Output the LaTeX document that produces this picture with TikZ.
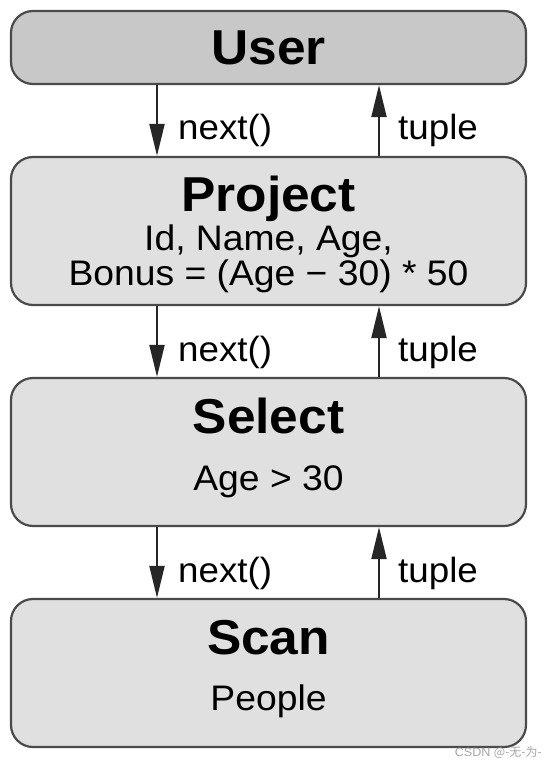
\documentclass[tikz,border=0pt]{standalone}
\usepackage{fontspec}
\setmainfont{Liberation Sans}[FakeStretch=1.05]
\newfontfamily\cjk{Noto Sans CJK SC}
\usetikzlibrary{arrows.meta}
\definecolor{usergray}{HTML}{C8C8C8}
\definecolor{opgray}{HTML}{E0E0E0}
\definecolor{edgegray}{HTML}{4A4A4A}
\tikzset{
  opbox/.style={draw=edgegray, line width=2.2pt, rounded corners=22pt, fill=opgray,
    minimum width=515pt, inner sep=0pt},
  titletext/.style={anchor=base, inner sep=0pt, font=\fontsize{49}{51}\selectfont\bfseries},
  subtext/.style={anchor=base, inner sep=0pt, font=\fontsize{35.5}{38}\selectfont},
  lbl/.style={anchor=base west, inner sep=0pt, font=\fontsize{35}{38}\selectfont},
  flow/.style={draw=black!85, line width=2pt, -{Triangle[length=32pt,width=15pt]}},
}
\begin{document}
\begin{tikzpicture}[x=1pt,y=-1pt]
\useasboundingbox (0,0) rectangle (546,762);
\fill[white] (0,0) rectangle (546,762);
% boxes
\node[opbox, fill=usergray, minimum height=73pt] (user) at (268.5,47.5) {};
\node[opbox, minimum height=148pt] (project) at (268.5,231) {};
\node[opbox, minimum height=148pt] (select) at (268.5,452) {};
\node[opbox, minimum height=148pt] (scan) at (268.5,673) {};
% texts
\node[titletext] (tuser) at (268.5,65) {User};
\node[titletext] (tproject) at (268.5,211) {Project};
\node[subtext] (pline1) at (268.5,250) {Id, Name, Age,};
\node[subtext] (pline2) at (268.5,285) {Bonus = (Age − 30) * 50};
\node[titletext] (tselect) at (268.5,433) {Select};
\node[subtext] (sline) at (268.5,490) {Age > 30};
\node[titletext] (tscan) at (268.5,654) {Scan};
\node[subtext] (cline) at (268.5,710) {People};
% connector columns
\coordinate (lx) at (157,0);
\coordinate (rx) at (379,0);
% arrows
\draw[flow] (user.south -| lx) -- (project.north -| lx);
\draw[flow] (project.north -| rx) -- (user.south -| rx);
\draw[flow] (project.south -| lx) -- (select.north -| lx);
\draw[flow] (select.north -| rx) -- (project.south -| rx);
\draw[flow] (select.south -| lx) -- (scan.north -| lx);
\draw[flow] (scan.north -| rx) -- (select.south -| rx);
% labels
\node[lbl] (n1) at (178,140) {next()};
\node[lbl] (t1) at (398,140) {tuple};
\node[lbl] (n2) at (178,361) {next()};
\node[lbl] (t2) at (398,361) {tuple};
\node[lbl] (n3) at (178,582) {next()};
\node[lbl] (t3) at (398,582) {tuple};
% watermark
\node[anchor=base east, inner sep=0pt, text=black!35, font=\fontsize{12}{13}\selectfont] (wm) at (542,756) {CSDN {\cjk @-无-为-}};
\end{tikzpicture}
\end{document}
